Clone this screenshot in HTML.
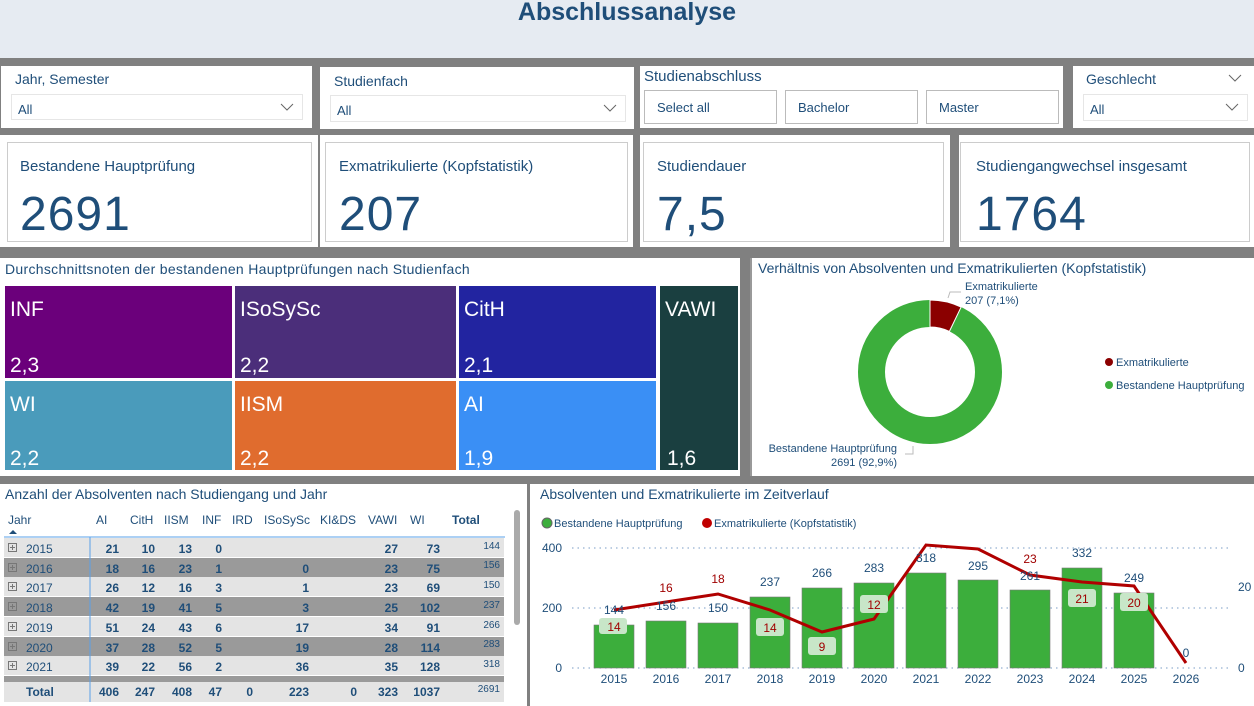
<!DOCTYPE html>
<html><head><meta charset="utf-8"><style>
*{margin:0;padding:0;box-sizing:border-box}
body{width:1254px;height:706px;overflow:hidden;background:#808080;font-family:"Liberation Sans",sans-serif;color:#1f4e79;position:relative}
.a{position:absolute}
.w{position:absolute;background:#fff}
.t{font-size:14px;color:#1f4e79}
.big{font-size:48px;color:#1f4e79;letter-spacing:1px}
.dd{position:absolute;border:1px solid #e6e6e6;background:#fff;font-size:13px;padding:7px 6px}
.btn{position:absolute;border:1px solid #bbb;background:#fff;font-size:13px;padding:9px 12px 0;color:#1f4e79}
.chev{position:absolute;right:8px;top:8px}
</style></head><body>
<div class="a" style="left:0;top:0;width:1254px;height:58px;background:#e6ebf2"></div>
<div class="a" style="left:0;top:-2px;width:1254px;text-align:center;font-size:25px;font-weight:bold;color:#1f4e79">Abschlussanalyse</div>

<div class="w" style="left:1px;top:66px;width:311px;height:62px"><div class="t a" style="left:14px;top:5px">Jahr, Semester</div><div class="dd" style="left:10px;top:28px;width:292px;height:26px">All<svg class="chev" width="14" height="8"><path d="M1 1 L7 7 L13 1" stroke="#666" fill="none"/></svg></div></div>
<div class="w" style="left:320px;top:67px;width:314px;height:62px"><div class="t a" style="left:14px;top:6px">Studienfach</div><div class="dd" style="left:10px;top:28px;width:296px;height:27px">All<svg class="chev" width="14" height="8"><path d="M1 1 L7 7 L13 1" stroke="#666" fill="none"/></svg></div></div>
<div class="w" style="left:640px;top:66px;width:423px;height:62px"><div class="a" style="left:4px;top:2px;font-size:15px">Studienabschluss</div>
<div class="btn" style="left:4px;top:24px;width:133px;height:34px">Select all</div>
<div class="btn" style="left:145px;top:24px;width:133px;height:34px">Bachelor</div>
<div class="btn" style="left:286px;top:24px;width:133px;height:34px">Master</div></div>
<div class="w" style="left:1073px;top:66px;width:181px;height:62px"><div class="t a" style="left:13px;top:5px">Geschlecht</div><svg class="a" style="right:12px;top:8px" width="14" height="8"><path d="M1 1 L7 7 L13 1" stroke="#666" fill="none"/></svg><div class="dd" style="left:10px;top:28px;width:165px;height:27px">All<svg class="chev" width="14" height="8"><path d="M1 1 L7 7 L13 1" stroke="#666" fill="none"/></svg></div></div>

<div class="w" style="left:0;top:135px;width:318px;height:112px"><div class="a" style="left:7px;top:7px;width:305px;height:100px;border:1px solid #ccc"></div><div class="a" style="left:20px;top:23px;font-size:15px">Bestandene Hauptprüfung</div><div class="a big" style="left:20px;top:52px">2691</div></div>
<div class="w" style="left:320px;top:135px;width:313px;height:112px"><div class="a" style="left:5px;top:7px;width:303px;height:100px;border:1px solid #ccc"></div><div class="a" style="left:19px;top:23px;font-size:15px">Exmatrikulierte (Kopfstatistik)</div><div class="a big" style="left:19px;top:52px">207</div></div>
<div class="w" style="left:640px;top:135px;width:310px;height:112px"><div class="a" style="left:3px;top:7px;width:301px;height:100px;border:1px solid #ccc"></div><div class="a" style="left:17px;top:23px;font-size:15px">Studiendauer</div><div class="a big" style="left:17px;top:52px">7,5</div></div>
<div class="w" style="left:959px;top:135px;width:295px;height:112px"><div class="a" style="left:1px;top:7px;width:290px;height:100px;border:1px solid #ccc"></div><div class="a" style="left:17px;top:23px;font-size:15px">Studiengangwechsel insgesamt</div><div class="a big" style="left:17px;top:52px">1764</div></div>

<div class="w" style="left:0;top:258px;width:745px;height:218px"></div>
<div class="a" style="left:5px;top:261px;font-size:14px;letter-spacing:.3px">Durchschnittsnoten der bestandenen Hauptprüfungen nach Studienfach</div>
<div class="a" style="left:740px;top:258px;width:10px;height:218px;background:#808080"></div>
<div class="w" style="left:750px;top:258px;width:504px;height:218px;border-left:2px solid #999"></div>

<div class="w" style="left:0;top:484px;width:527px;height:222px"></div>
<div class="w" style="left:530px;top:484px;width:724px;height:222px"></div>

<svg class="a" style="left:0;top:0" width="1254" height="706" font-family="Liberation Sans, sans-serif">
<g fill="#fff" font-size="21">
<rect x="5" y="286" width="227" height="92" fill="#6b007b"/><text x="10" y="316">INF</text><text x="10" y="372">2,3</text>
<rect x="235" y="286" width="221" height="92" fill="#4b2e7a"/><text x="240" y="316">ISoSySc</text><text x="240" y="372">2,2</text>
<rect x="459" y="286" width="197" height="92" fill="#2224a0"/><text x="464" y="316">CitH</text><text x="464" y="372">2,1</text>
<rect x="660" y="286" width="78" height="184" fill="#1a3f40"/><text x="665" y="316">VAWI</text><text x="667" y="465">1,6</text>
<rect x="5" y="381" width="227" height="89" fill="#4a9bbb"/><text x="10" y="411">WI</text><text x="10" y="465">2,2</text>
<rect x="235" y="381" width="221" height="89" fill="#e06c2e"/><text x="240" y="411">IISM</text><text x="240" y="465">2,2</text>
<rect x="459" y="381" width="197" height="89" fill="#3a8ff5"/><text x="464" y="411">AI</text><text x="464" y="465">1,9</text>
</g>
<text x="758" y="273" font-size="14" fill="#1f4e79">Verhältnis von Absolventen und Exmatrikulierten (Kopfstatistik)</text>
<circle cx="930" cy="372" r="58.5" fill="none" stroke="#3cae3c" stroke-width="27"/>
<path d="M930 300 A72 72 0 0 1 961.1 307.1 L949.4 331.4 A45 45 0 0 0 930 327 Z" fill="#8b0000" stroke="#fff" stroke-width="1"/>
<path d="M961 292 L950 292 L948 298" stroke="#bbb" fill="none"/>
<text x="965" y="290" font-size="11" fill="#1f4e79">Exmatrikulierte</text><text x="965" y="304" font-size="11" fill="#1f4e79">207 (7,1%)</text>
<path d="M913 446 L913 454 L905 454" stroke="#bbb" fill="none"/>
<text x="897" y="452" font-size="11" fill="#1f4e79" text-anchor="end">Bestandene Hauptprüfung</text><text x="897" y="466" font-size="11" fill="#1f4e79" text-anchor="end">2691 (92,9%)</text>
<circle cx="1109" cy="362" r="4" fill="#8b0000"/><text x="1116" y="366" font-size="11" fill="#1f4e79">Exmatrikulierte</text>
<circle cx="1109" cy="385" r="4" fill="#3cae3c"/><text x="1116" y="389" font-size="11" fill="#1f4e79">Bestandene Hauptprüfung</text>

<text x="540" y="499" font-size="14" fill="#1f4e79">Absolventen und Exmatrikulierte im Zeitverlauf</text>
<circle cx="547" cy="523" r="5" fill="#3cae3c" stroke="#666"/><text x="554" y="527" font-size="11" fill="#1f4e79">Bestandene Hauptprüfung</text>
<circle cx="707" cy="523" r="5" fill="#c00000"/><text x="714" y="527" font-size="11" fill="#1f4e79">Exmatrikulierte (Kopfstatistik)</text>
<g stroke="#7a9cc6" stroke-dasharray="1.5 4" stroke-width="1"><line x1="572" x2="1228" y1="548" y2="548"/><line x1="572" x2="1228" y1="608" y2="608"/><line x1="572" x2="1228" y1="668" y2="668"/></g>
<g font-size="12" fill="#1f4e79"><text x="562" y="552" text-anchor="end">400</text><text x="562" y="612" text-anchor="end">200</text><text x="562" y="672" text-anchor="end">0</text>
<text x="1238" y="591">20</text><text x="1238" y="672">0</text></g>
<g fill="#3cae3c" stroke="#777" stroke-width="0.6">
<rect x="594" y="625" width="40" height="43"/><rect x="646" y="621" width="40" height="47"/><rect x="698" y="623" width="40" height="45"/><rect x="750" y="597" width="40" height="71"/><rect x="802" y="588" width="40" height="80"/><rect x="854" y="583" width="40" height="85"/><rect x="906" y="573" width="40" height="95"/><rect x="958" y="580" width="40" height="88"/><rect x="1010" y="590" width="40" height="78"/><rect x="1062" y="568" width="40" height="100"/><rect x="1114" y="593" width="40" height="75"/></g>
<polyline points="614,610 666,602 718,594 770,610 822,632 874,619 926,545 978,549 1030,575 1082,582 1134,586 1186,663" fill="none" stroke="#b00000" stroke-width="3"/>
<g fill="#c8e6c8"><rect x="599" y="618" width="28" height="16" rx="3"/><rect x="756" y="618" width="28" height="18" rx="3"/><rect x="808" y="637" width="28" height="18" rx="3"/><rect x="860" y="595" width="28" height="18" rx="3"/><rect x="1068" y="589" width="28" height="18" rx="3"/><rect x="1120" y="593" width="28" height="18" rx="3"/></g>
<g font-size="12" fill="#1f4e79" text-anchor="middle">
<text x="614" y="614">144</text><text x="666" y="610">156</text><text x="718" y="612">150</text><text x="770" y="586">237</text><text x="822" y="577">266</text><text x="874" y="572">283</text><text x="926" y="562">318</text><text x="978" y="570">295</text><text x="1030" y="580">261</text><text x="1082" y="557">332</text><text x="1134" y="582">249</text><text x="1186" y="657">0</text>
<text x="614" y="683">2015</text><text x="666" y="683">2016</text><text x="718" y="683">2017</text><text x="770" y="683">2018</text><text x="822" y="683">2019</text><text x="874" y="683">2020</text><text x="926" y="683">2021</text><text x="978" y="683">2022</text><text x="1030" y="683">2023</text><text x="1082" y="683">2024</text><text x="1134" y="683">2025</text><text x="1186" y="683">2026</text></g>
<g font-size="12" fill="#a00000" text-anchor="middle">
<text x="614" y="631">14</text><text x="666" y="592">16</text><text x="718" y="583">18</text><text x="770" y="632">14</text><text x="822" y="651">9</text><text x="874" y="609">12</text><text x="1030" y="563">23</text><text x="1082" y="603">21</text><text x="1134" y="607">20</text></g>

<text x="5" y="499" font-size="14" fill="#1f4e79">Anzahl der Absolventen nach Studiengang und Jahr</text>
<g font-size="12" fill="#1f4e79"><text x="8" y="524">Jahr</text><text x="96" y="524">AI</text><text x="130" y="524">CitH</text><text x="164" y="524">IISM</text><text x="202" y="524">INF</text><text x="232" y="524">IRD</text><text x="264" y="524">ISoSySc</text><text x="320" y="524">KI&amp;DS</text><text x="368" y="524">VAWI</text><text x="410" y="524">WI</text><text x="452" y="524" font-weight="bold">Total</text></g>
<path d="M9 534 L13 530 L17 534Z" fill="#1f4e79"/>
<line x1="4" x2="505" y1="537" y2="537" stroke="#5aa0e8"/>
<g fill="#e4e4e4"><rect x="4" y="538" width="500" height="19"/><rect x="4" y="577" width="500" height="19"/><rect x="4" y="617" width="500" height="19"/><rect x="4" y="656" width="500" height="19"/><rect x="4" y="682" width="500" height="20"/></g>
<g fill="#9a9a9a"><rect x="4" y="558" width="500" height="19"/><rect x="4" y="597" width="500" height="19"/><rect x="4" y="637" width="500" height="19"/><rect x="4" y="676" width="500" height="6"/></g>
<line x1="90" x2="90" y1="537" y2="702" stroke="#5aa0e8"/>
<rect x="514" y="510" width="6" height="115" rx="3" fill="#aaa"/>
<g fill="none" stroke="#777"><rect x="8.5" y="543.5" width="8" height="8"/><rect x="8.5" y="563.5" width="8" height="8"/><rect x="8.5" y="582.5" width="8" height="8"/><rect x="8.5" y="602.5" width="8" height="8"/><rect x="8.5" y="622.5" width="8" height="8"/><rect x="8.5" y="642.5" width="8" height="8"/><rect x="8.5" y="661.5" width="8" height="8"/>
<path d="M10 547.5h5M12.5 545v5M10 567.5h5M12.5 565v5M10 586.5h5M12.5 584v5M10 606.5h5M12.5 604v5M10 626.5h5M12.5 624v5M10 646.5h5M12.5 644v5M10 665.5h5M12.5 663v5"/></g>
<g font-size="12" fill="#1f4e79">
<text x="26" y="553">2015</text><text x="26" y="573">2016</text><text x="26" y="592">2017</text><text x="26" y="612">2018</text><text x="26" y="632">2019</text><text x="26" y="652">2020</text><text x="26" y="671">2021</text>
<text x="26" y="696" font-weight="bold">Total</text>
</g>
<g font-size="12" fill="#1f4e79" font-weight="bold" text-anchor="end">
<text x="119" y="553">21</text><text x="155" y="553">10</text><text x="192" y="553">13</text><text x="222" y="553">0</text><text x="398" y="553">27</text><text x="440" y="553">73</text>
<text x="119" y="573">18</text><text x="155" y="573">16</text><text x="192" y="573">23</text><text x="222" y="573">1</text><text x="309" y="573">0</text><text x="398" y="573">23</text><text x="440" y="573">75</text>
<text x="119" y="592">26</text><text x="155" y="592">12</text><text x="192" y="592">16</text><text x="222" y="592">3</text><text x="309" y="592">1</text><text x="398" y="592">23</text><text x="440" y="592">69</text>
<text x="119" y="612">42</text><text x="155" y="612">19</text><text x="192" y="612">41</text><text x="222" y="612">5</text><text x="309" y="612">3</text><text x="398" y="612">25</text><text x="440" y="612">102</text>
<text x="119" y="632">51</text><text x="155" y="632">24</text><text x="192" y="632">43</text><text x="222" y="632">6</text><text x="309" y="632">17</text><text x="398" y="632">34</text><text x="440" y="632">91</text>
<text x="119" y="652">37</text><text x="155" y="652">28</text><text x="192" y="652">52</text><text x="222" y="652">5</text><text x="309" y="652">19</text><text x="398" y="652">28</text><text x="440" y="652">114</text>
<text x="119" y="671">39</text><text x="155" y="671">22</text><text x="192" y="671">56</text><text x="222" y="671">2</text><text x="309" y="671">36</text><text x="398" y="671">35</text><text x="440" y="671">128</text>
<text x="119" y="696">406</text><text x="155" y="696">247</text><text x="192" y="696">408</text><text x="222" y="696">47</text><text x="253" y="696">0</text><text x="309" y="696">223</text><text x="357" y="696">0</text><text x="398" y="696">323</text><text x="440" y="696">1037</text>
</g>
<g font-size="10" fill="#1f4e79" text-anchor="end"><text x="500" y="549">144</text><text x="500" y="568">156</text><text x="500" y="588">150</text><text x="500" y="608">237</text><text x="500" y="628">266</text><text x="500" y="647">283</text><text x="500" y="667">318</text><text x="500" y="692">2691</text></g>
</svg>
</body></html>
